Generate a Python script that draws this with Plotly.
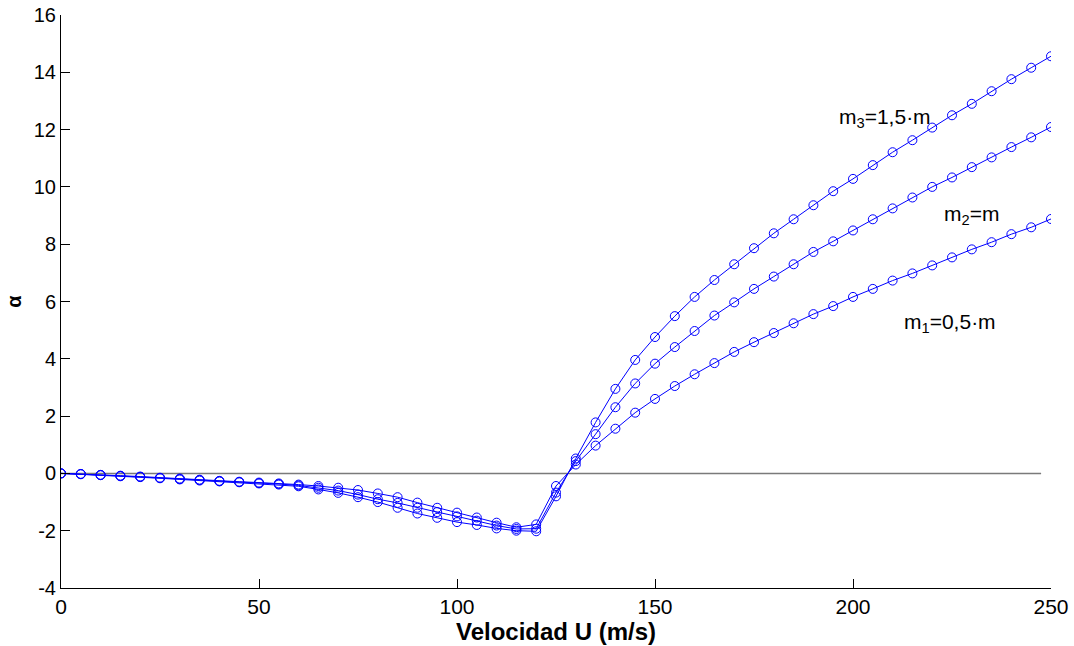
import plotly.graph_objects as go

velocity = list(range(0, 251, 5))

alpha_m1 = [0, -0.02, -0.05, -0.08, -0.11, -0.15, -0.18, -0.22, -0.26, -0.29,
            -0.32, -0.35, -0.39, -0.44, -0.50, -0.58, -0.70, -0.83, -1.02, -1.20,
            -1.37, -1.54, -1.72, -1.88, -1.78, -0.44, 0.31, 0.97, 1.56, 2.12,
            2.60, 3.05, 3.46, 3.85, 4.24, 4.58, 4.90, 5.24, 5.56, 5.84,
            6.16, 6.44, 6.73, 6.98, 7.26, 7.54, 7.82, 8.07, 8.35, 8.59, 8.88]

alpha_m2 = [0, -0.02, -0.06, -0.09, -0.12, -0.16, -0.20, -0.23, -0.27, -0.30,
            -0.34, -0.37, -0.42, -0.50, -0.60, -0.74, -0.90, -1.03, -1.20, -1.35,
            -1.50, -1.65, -1.82, -1.94, -1.93, -0.67, 0.43, 1.37, 2.31, 3.14,
            3.83, 4.41, 4.97, 5.51, 5.97, 6.44, 6.87, 7.30, 7.73, 8.10,
            8.48, 8.87, 9.25, 9.63, 10.00, 10.33, 10.69, 11.03, 11.39, 11.73, 12.09]

alpha_m3 = [0, -0.03, -0.06, -0.10, -0.13, -0.17, -0.21, -0.25, -0.28, -0.31,
            -0.35, -0.39, -0.45, -0.56, -0.68, -0.83, -1.00, -1.20, -1.40, -1.55,
            -1.70, -1.80, -1.92, -2.00, -2.02, -0.80, 0.52, 1.78, 2.95, 3.96,
            4.76, 5.49, 6.16, 6.75, 7.30, 7.86, 8.38, 8.87, 9.36, 9.85,
            10.28, 10.76, 11.21, 11.63, 12.07, 12.50, 12.90, 13.34, 13.76, 14.16, 14.56]

zero_line_x = [0, 247.5]
zero_line_y = [0, 0]

labels = ["m<sub>1</sub>=0,5·m", "m<sub>2</sub>=m", "m<sub>3</sub>=1,5·m"]
label_x = [212.3, 222.4, 196.0]
label_y = [5.26, 9.02, 12.4]

x_ticks = [0, 50, 100, 150, 200, 250]
x_tick_text = ["0", "50", "100", "150", "200", "250"]
y_ticks = [-4, -2, 0, 2, 4, 6, 8, 10, 12, 14, 16]
y_tick_text = ["-4", "-2", "0", "2", "4", "6", "8", "10", "12", "14", "16"]

fig = go.Figure()

fig.add_trace(go.Scatter(x=zero_line_x, y=zero_line_y, mode="lines",
                         line=dict(color="#7a7a7a", width=1.5),
                         hoverinfo="skip", showlegend=False))

for ys in (alpha_m1, alpha_m2, alpha_m3):
    fig.add_trace(go.Scatter(
        x=velocity, y=ys, mode="lines+markers",
        line=dict(color="#0000ff", width=1),
        marker=dict(symbol="circle-open", size=9, color="#0000ff",
                    line=dict(width=1, color="#0000ff")),
        showlegend=False))

for t, lx, ly in zip(labels, label_x, label_y):
    fig.add_annotation(x=lx, y=ly, text=t, showarrow=False,
                       xanchor="left", yanchor="middle",
                       font=dict(family="Liberation Sans, Arial", size=21, color="black"))

fig.update_layout(
    width=1074, height=646,
    margin=dict(l=61, r=23, t=15, b=58, autoexpand=False),
    paper_bgcolor="white", plot_bgcolor="white",
    font=dict(family="Liberation Sans, Arial", size=19, color="black"),
)

fig.update_xaxes(
    range=[0, 250], tickvals=x_ticks, ticktext=x_tick_text,
    ticks="inside", ticklen=9, automargin=False,
    tickcolor="black", showline=True, linecolor="black", linewidth=1,
    showgrid=False, zeroline=False,
    tickfont=dict(size=21),
    title=dict(text="<b>Velocidad U (m/s)</b>", standoff=0,
               font=dict(size=24)),
)
fig.update_yaxes(
    range=[-4, 16], tickvals=y_ticks, ticktext=y_tick_text,
    ticks="inside", ticklen=9, automargin=False,
    tickcolor="black", showline=True, linecolor="black", linewidth=1,
    showgrid=False, zeroline=False,
    tickfont=dict(size=20),
    title=dict(text="<b>α</b>", standoff=6, font=dict(size=20)),
)

fig.write_html("out.html")
